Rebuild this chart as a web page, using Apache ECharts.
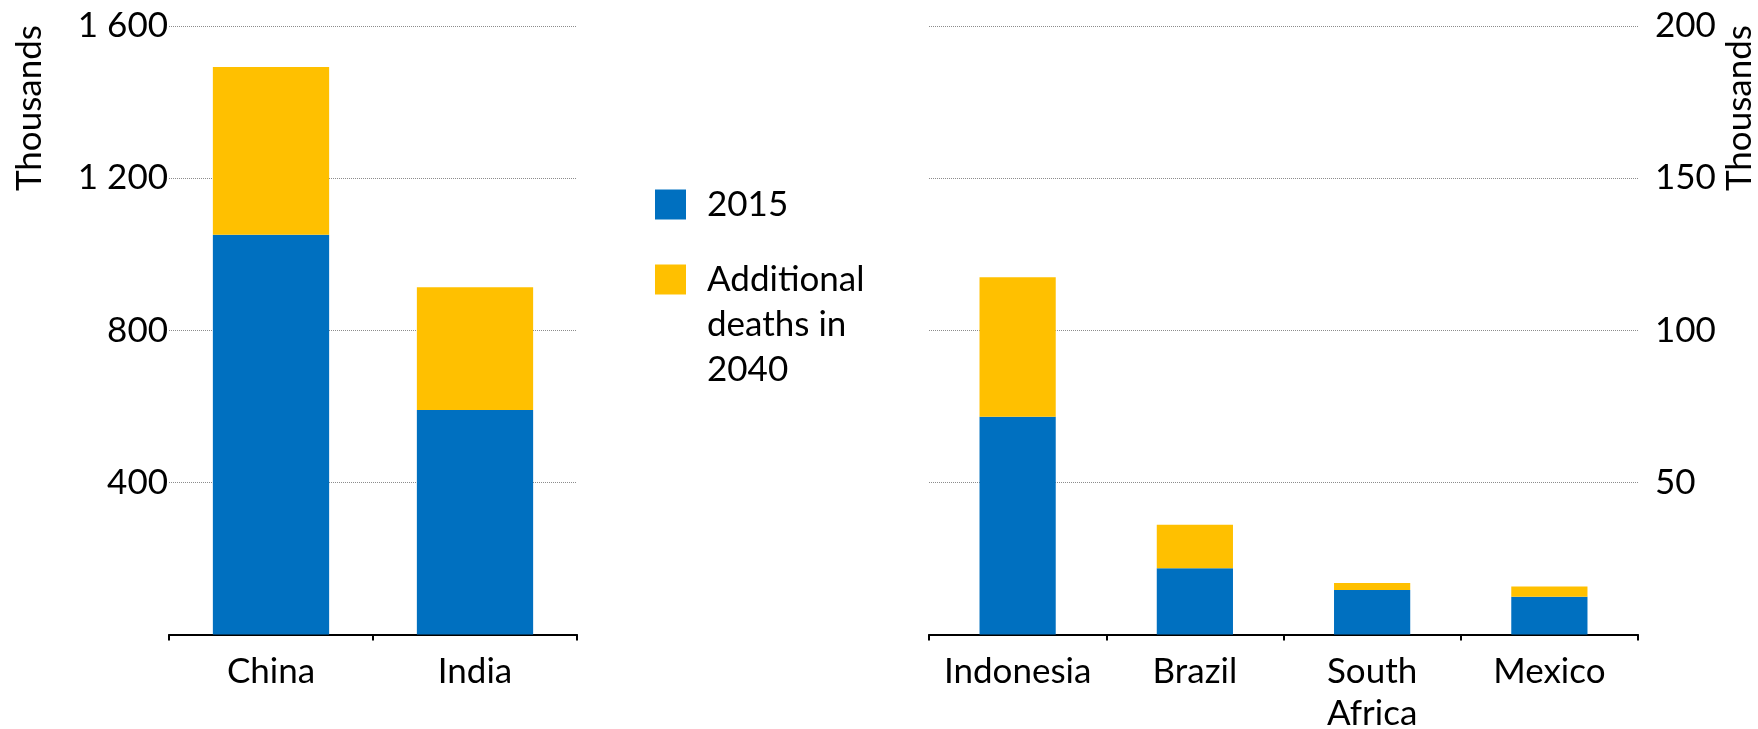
<!DOCTYPE html>
<html>
<head>
<meta charset="utf-8">
<script src="https://cdn.jsdelivr.net/npm/echarts@6/dist/echarts.min.js"></script>
<style>
  html, body { margin: 0; padding: 0; background: #fff; }
  #chart { width: 1758px; height: 729px; }
</style>
</head>
<body>
<div id="chart"></div>
<script>
// left panel (large countries), thousands
const bigCountries = ['China', 'India']
const big2015 = [1051, 590]
const bigAdditional = [441, 323]

// right panel (smaller countries), thousands
const smallCountries = ['Indonesia', 'Brazil', 'South\nAfrica', 'Mexico']
const small2015 = [71.6, 21.8, 14.6, 12.4]
const smallAdditional = [45.8, 14.3, 2.3, 3.4]

const leftTicks = [0, 400, 800, 1200, 1600]
const rightTicks = [0, 50, 100, 150, 200]

const BLUE = '#0070C0'
const YELLOW = '#FFC000'
const FONT = 'Lato'
const FS = 35

// no label at zero, space as thousands separator
const fmt = v => (v === 0 ? '' : String(v).replace(/\B(?=(\d{3})+(?!\d))/g, ' '))

const chart = echarts.init(document.getElementById('chart'))

const xAxisBase = {
  type: 'category',
  axisLine: { lineStyle: { color: '#000', width: 2 } },
  axisTick: { show: true, length: 6, lineStyle: { color: '#000', width: 2 } },
  axisLabel: { color: '#000', fontFamily: FONT, fontSize: FS, lineHeight: 42, margin: 16, interval: 0 }
}

const yAxisBase = {
  type: 'value',
  min: 0,
  axisLine: { show: false },
  axisTick: { show: false },
  splitLine: { lineStyle: { type: 'dotted', color: '#8c8c8c', width: 1 } },
  axisLabel: { color: '#000', fontFamily: FONT, fontSize: FS, formatter: fmt }
}

const legendText = { color: '#000', fontFamily: FONT, fontSize: FS, lineHeight: 45, padding: [0, 0, 0, 16] }

const option = {
  animation: false,
  grid: [
    { left: 169, right: 1181, top: 26, bottom: 94.5, outerBoundsMode: 'none' },
    { left: 929, right: 120, top: 26, bottom: 94.5, outerBoundsMode: 'none' }
  ],
  xAxis: [
    Object.assign({}, xAxisBase, { gridIndex: 0, data: bigCountries }),
    Object.assign({}, xAxisBase, { gridIndex: 1, data: smallCountries })
  ],
  yAxis: [
    Object.assign({}, yAxisBase, {
      gridIndex: 0,
      max: leftTicks[leftTicks.length - 1],
      interval: leftTicks[1] - leftTicks[0],
      axisLabel: Object.assign({}, yAxisBase.axisLabel, { margin: 1 })
    }),
    Object.assign({}, yAxisBase, {
      gridIndex: 1,
      position: 'right',
      max: rightTicks[rightTicks.length - 1],
      interval: rightTicks[1] - rightTicks[0],
      axisLabel: Object.assign({}, yAxisBase.axisLabel, { margin: 17 })
    })
  ],
  legend: [
    {
      data: ['2015'],
      left: 655,
      top: 182,
      padding: 0,
      itemWidth: 31,
      itemHeight: 30,
      icon: 'rect',
      selectedMode: false,
      textStyle: legendText
    },
    {
      data: ['Additional deaths in 2040'],
      left: 655,
      top: 167,
      padding: 0,
      itemWidth: 31,
      itemHeight: 30,
      icon: 'rect',
      selectedMode: false,
      // two blank lines first so the first text line sits level with the swatch
      formatter: () => '\n\nAdditional\ndeaths in\n2040',
      textStyle: legendText
    }
  ],
  graphic: [
    {
      type: 'text',
      x: 30,
      y: 25,
      rotation: Math.PI / 2,
      style: { text: 'Thousands', fill: '#000', font: FS + 'px ' + FONT, align: 'right', verticalAlign: 'middle' }
    },
    {
      type: 'text',
      x: 1740,
      y: 25,
      rotation: Math.PI / 2,
      style: { text: 'Thousands', fill: '#000', font: FS + 'px ' + FONT, align: 'right', verticalAlign: 'middle' }
    }
  ],
  series: [
    {
      name: '2015', type: 'bar', stack: 'big', xAxisIndex: 0, yAxisIndex: 0,
      barWidth: '57%', itemStyle: { color: BLUE }, data: big2015
    },
    {
      name: 'Additional deaths in 2040', type: 'bar', stack: 'big', xAxisIndex: 0, yAxisIndex: 0,
      barWidth: '57%', itemStyle: { color: YELLOW }, data: bigAdditional
    },
    {
      name: '2015', type: 'bar', stack: 'small', xAxisIndex: 1, yAxisIndex: 1,
      barWidth: '43%', itemStyle: { color: BLUE }, data: small2015
    },
    {
      name: 'Additional deaths in 2040', type: 'bar', stack: 'small', xAxisIndex: 1, yAxisIndex: 1,
      barWidth: '43%', itemStyle: { color: YELLOW }, data: smallAdditional
    }
  ]
}

chart.setOption(option)
</script>
</body>
</html>
